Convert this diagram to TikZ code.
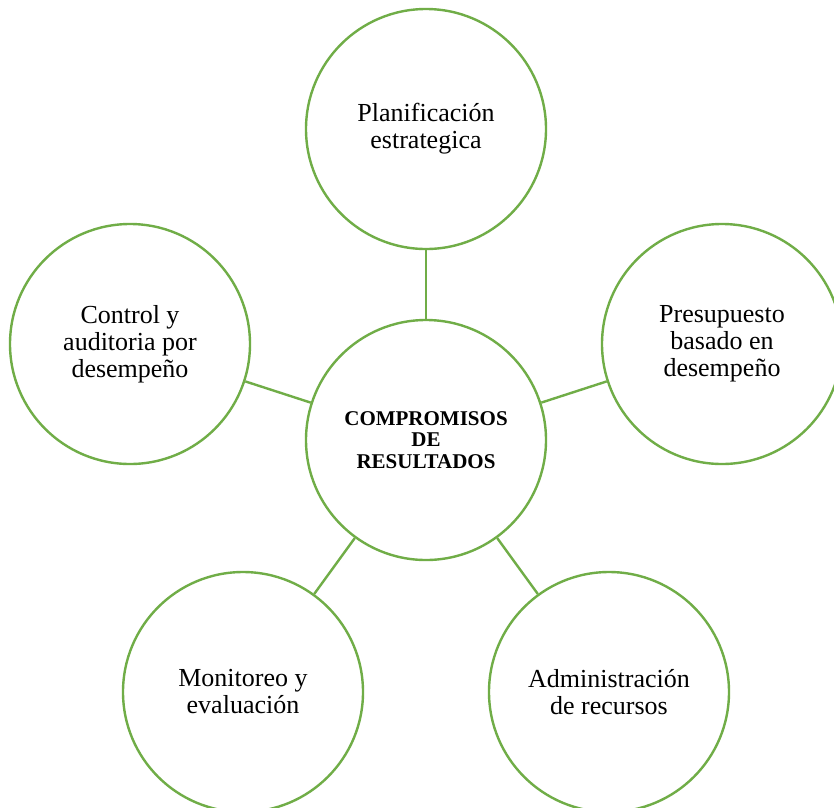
\documentclass[tikz,border=0pt]{standalone}
\usepackage{fontspec}
\setmainfont{Liberation Serif}
\definecolor{ringgreen}{HTML}{70AD47}
\tikzset{
  ring/.style={circle, draw=ringgreen, line width=2.4pt, minimum size=240pt, inner sep=0pt, align=center, fill=white, font=\fontsize{26}{27}\selectfont},
  hub/.style={ring, font=\fontsize{21}{21.7}\selectfont\bfseries},
  link/.style={draw=ringgreen, line width=2.4pt}
}
\begin{document}
\begin{tikzpicture}[x=1pt,y=-1pt]
\clip (0,0) rectangle (834,807);
\fill[white] (0,0) rectangle (834,807);
\node[hub] (c) at (426,440) {COMPROMISOS\\DE\\RESULTADOS};
\node[ring] (t) at (426,129) {Planificación\\estrategica};
\node[ring] (l) at (130,344) {Control y\\auditoria por\\desempeño};
\node[ring] (r) at (722,344) {Presupuesto\\basado en\\desempeño};
\node[ring] (bl) at (243,692) {Monitoreo y\\evaluación};
\node[ring] (br) at (609,692) {Administración\\de recursos};
\draw[link] (c) -- (t);
\draw[link] (c) -- (l);
\draw[link] (c) -- (r);
\draw[link] (c) -- (bl);
\draw[link] (c) -- (br);
\end{tikzpicture}
\end{document}
